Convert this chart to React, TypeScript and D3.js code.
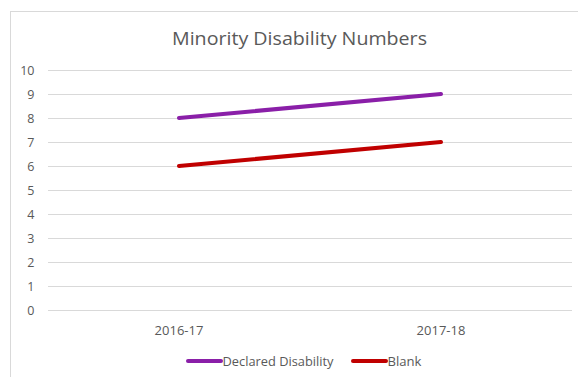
import React from "react";
import * as d3 from "d3";

const categories = ["2016-17", "2017-18"];
const seriesNames = ["Declared Disability", "Blank"];
const declaredValues = [8, 9];
const blankValues = [6, 7];
const yTicks = [0, 1, 2, 3, 4, 5, 6, 7, 8, 9, 10];
const title = "Minority Disability Numbers";

const colors = ["#8a1fa8", "#c00000"];
const font = "'Open Sans', 'Noto Sans', sans-serif";
const textColor = "#595959";

export default function App() {
  const W = 578, H = 377;
  const x = d3.scaleBand<string>().domain(categories).range([48, 572]);
  const y = d3.scaleLinear().domain([0, 10]).range([310, 70]);
  const cx = (c: string) => (x(c) ?? 0) + x.bandwidth() / 2;
  const line = d3
    .line<[string, number]>()
    .x((d) => cx(d[0]))
    .y((d) => y(d[1]));
  const series = [declaredValues, blankValues].map((vals) =>
    categories.map((c, i) => [c, vals[i]] as [string, number])
  );
  const legendItems = [
    { x1: 188, x2: 221, tx: 222.5, len: 111 },
    { x1: 353, x2: 386, tx: 387.5, len: 34 },
  ];
  return (
    <div style={{ position: "absolute", left: 0, top: 0 }}>
      <svg width={W} height={H} style={{ display: "block", background: "#fff" }}>
        <rect x={10.5} y={11.5} width={620} height={420} fill="#fff" stroke="#d9d9d9" strokeWidth={1} />
        <text x={299.5} y={45} textAnchor="middle" fontFamily={font} fontSize={19} fill={textColor}
          textLength={255} lengthAdjust="spacingAndGlyphs">
          {title}
        </text>
        {yTicks.map((t) => (
          <g key={t}>
            <line x1={48} x2={572} y1={y(t) + 0.5} y2={y(t) + 0.5} stroke="#d9d9d9" strokeWidth={1} />
            <text x={34.5} y={y(t) + 4.5} textAnchor="end" fontFamily={font} fontSize={12.5} fill={textColor}>
              {t}
            </text>
          </g>
        ))}
        {categories.map((c) => (
          <text key={c} x={cx(c)} y={334.5} textAnchor="middle" fontFamily={font} fontSize={13} fill={textColor}>
            {c}
          </text>
        ))}
        {series.map((s, i) => (
          <path key={i} d={line(s) ?? ""} fill="none" stroke={colors[i]} strokeWidth={4} strokeLinecap="round" />
        ))}
        {seriesNames.map((n, i) => (
          <g key={n}>
            <line x1={legendItems[i].x1} x2={legendItems[i].x2} y1={361} y2={361} stroke={colors[i]} strokeWidth={4} strokeLinecap="round" />
            <text x={legendItems[i].tx} y={365.5} fontFamily={font} fontSize={13} fill={textColor}
              textLength={legendItems[i].len} lengthAdjust="spacingAndGlyphs">
              {n}
            </text>
          </g>
        ))}
      </svg>
    </div>
  );
}
